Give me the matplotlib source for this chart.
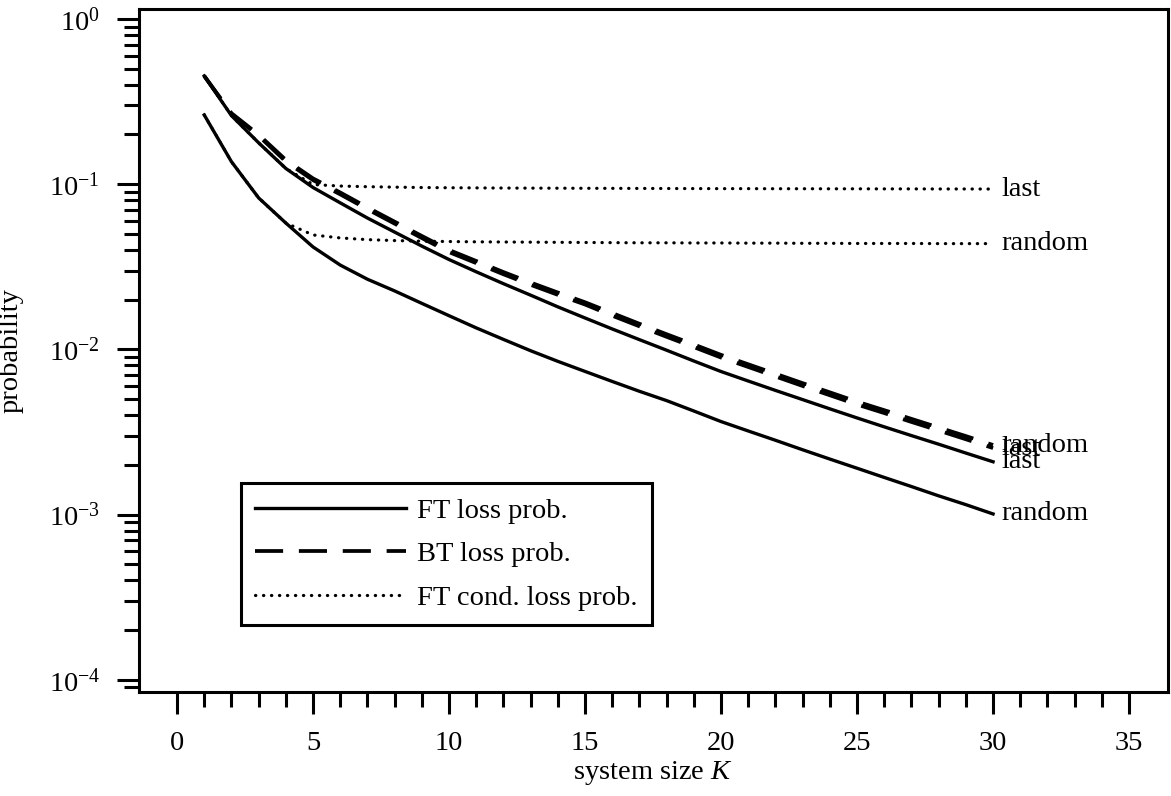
import matplotlib
matplotlib.use("Agg")
import matplotlib.pyplot as plt
from matplotlib import ticker

plt.rcParams.update({
    'font.family': ['Liberation Serif', 'DejaVu Serif'],
    'mathtext.fontset': 'custom',
    'mathtext.rm': 'Liberation Serif',
    'mathtext.it': 'Liberation Serif:italic',
    'font.size': 20.5,
    'axes.linewidth': 2.2,
})

# ---- data: loss probabilities vs. system size ----
K = list(range(1, 31))

ft_loss_last = [0.452, 0.260, 0.178, 0.1245, 0.0955, 0.0771, 0.0624, 0.0513, 0.0422, 0.0350,
                0.0295, 0.0250, 0.0213, 0.0181, 0.0155, 0.0133, 0.01146, 0.00989, 0.00851, 0.00735,
                0.00644, 0.00565, 0.00497, 0.00437, 0.00385, 0.00340, 0.00301, 0.00267, 0.00236, 0.00209]
ft_loss_random = [0.2624, 0.1368, 0.0826, 0.0582, 0.0417, 0.0324, 0.0266, 0.0226, 0.0190, 0.0160,
                  0.0135, 0.0115, 0.00982, 0.00847, 0.00736, 0.00640, 0.00558, 0.00490, 0.00424, 0.00366,
                  0.00321, 0.00282, 0.00247, 0.00217, 0.00191, 0.00168, 0.00148, 0.00130, 0.00115, 0.00101]
bt_loss_random = [0.452, 0.269, 0.1995, 0.1403, 0.1084, 0.0891, 0.0724, 0.0593, 0.0486, 0.0400,
                  0.0343, 0.0294, 0.0254, 0.0221, 0.0193, 0.0166, 0.0143, 0.01236, 0.01072, 0.00927,
                  0.00813, 0.00713, 0.00625, 0.00550, 0.00483, 0.00429, 0.00380, 0.00337, 0.00299, 0.00264]
bt_loss_last = [0.452, 0.266, 0.196, 0.137, 0.1058, 0.0868, 0.0705, 0.0577, 0.0472, 0.0388,
                0.0333, 0.0285, 0.0246, 0.0214, 0.0187, 0.0160, 0.0138, 0.01192, 0.01033, 0.00893,
                0.00783, 0.00686, 0.00601, 0.00528, 0.00464, 0.00412, 0.00364, 0.00323, 0.00286, 0.00253]
ft_cond_last = [0.452, 0.260, 0.178, 0.1245, 0.0995, 0.0975, 0.0966, 0.0960, 0.0955, 0.0952,
                0.0950, 0.0948, 0.0947, 0.0946, 0.0945, 0.0944, 0.0943, 0.0942, 0.0941, 0.0940,
                0.0940, 0.0939, 0.0939, 0.0938, 0.0938, 0.0937, 0.0937, 0.0936, 0.0936, 0.0935]
ft_cond_random = [0.2624, 0.1368, 0.0826, 0.0582, 0.0493, 0.0473, 0.0462, 0.0456, 0.0452, 0.0450,
                  0.0448, 0.0447, 0.0446, 0.0445, 0.0444, 0.0443, 0.0442, 0.0442, 0.0441, 0.0441,
                  0.0440, 0.0440, 0.0439, 0.0439, 0.0438, 0.0438, 0.0438, 0.0437, 0.0437, 0.0437]

legend_labels = ["FT loss prob.", "BT loss prob.", "FT cond. loss prob."]

solid = dict(color='black', lw=2.4, linestyle='-')
dashed = dict(color='black', lw=2.7, linestyle=(0, (7.5, 4.2)))
dotted = dict(color='black', lw=2.3, linestyle=(0, (0.1, 2.4)), dash_capstyle='round')

fig = plt.figure(figsize=(11.71, 7.96), dpi=100)
ax = fig.add_axes([0.1187, 0.1307, 0.8787, 0.858])

curves = [
    (ft_loss_last, solid, "last"),
    (ft_loss_random, solid, "random"),
    (bt_loss_random, dashed, "random"),
    (bt_loss_last, dashed, "last"),
    (ft_cond_last, dotted, "last"),
    (ft_cond_random, dotted, "random"),
]
for values, style, tag in curves:
    ax.plot(K, values, **style)
    ax.text(K[-1] + 0.3, values[-1], tag, ha='left', va='center', fontsize=20.5)

ax.set_yscale('log')
ax.set_xlim(-1.4, 36.43)
ax.set_ylim(10 ** -4.073, 10 ** 0.0605)

ax.xaxis.set_major_locator(ticker.FixedLocator([0, 5, 10, 15, 20, 25, 30, 35]))
ax.xaxis.set_minor_locator(ticker.FixedLocator([k for k in range(1, 35) if k % 5]))
ax.yaxis.set_major_locator(ticker.LogLocator(base=10, numticks=10))
ax.yaxis.set_minor_locator(ticker.LogLocator(base=10, subs=range(2, 10), numticks=10))
ax.yaxis.set_minor_formatter(ticker.NullFormatter())

ax.tick_params(which='both', direction='out', top=False, right=False, width=2.2)
ax.tick_params(axis='y', which='major', length=16, pad=12)
ax.tick_params(axis='y', which='minor', length=11)
ax.tick_params(axis='x', which='major', length=16, pad=12)
ax.tick_params(axis='x', which='minor', length=11)

ax.set_xlabel('system size $K$', labelpad=2)
ax.set_ylabel('probability', labelpad=18)

handles = [
    plt.Line2D([], [], **solid),
    plt.Line2D([], [], **dashed),
    plt.Line2D([], [], **dotted),
]
leg = ax.legend(handles, legend_labels, loc='lower left', bbox_to_anchor=(0.099, 0.098),
                borderaxespad=0, fancybox=False, handlelength=5.3, handletextpad=0.4,
                labelspacing=0.62, borderpad=0.5, framealpha=1, fontsize=20.5)
leg.get_frame().set_edgecolor('black')
leg.get_frame().set_linewidth(2.2)

fig.savefig('out.png', dpi=100)
